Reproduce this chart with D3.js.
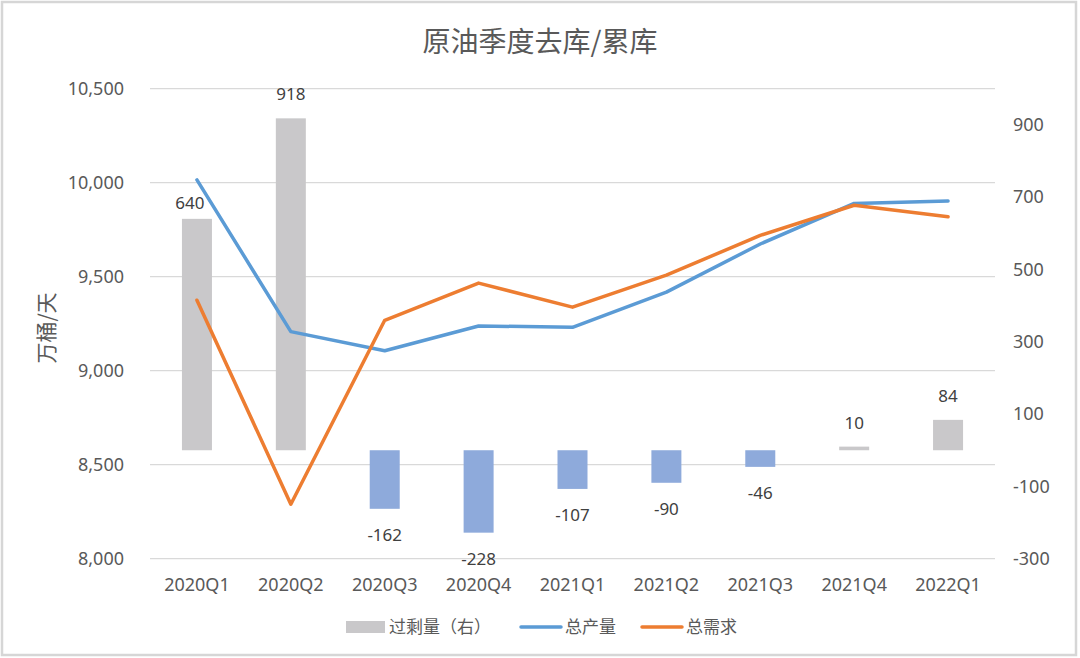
<!DOCTYPE html>
<html>
<head>
<meta charset="utf-8">
<script src="https://cdn.jsdelivr.net/npm/d3@7"></script>
<style>
  html, body { margin: 0; padding: 0; background: #fff; }
  svg { display: block; font-family: "Noto Sans CJK SC", "Noto Sans", sans-serif; }
</style>
</head>
<body>
<div id="chart"></div>
<script>
// quarters on the x axis
const quarters = ['2020Q1', '2020Q2', '2020Q3', '2020Q4', '2021Q1', '2021Q2', '2021Q3', '2021Q4', '2022Q1'];
// 总产量 / 总需求, left axis (万桶/天)
const production = [10015, 9208, 9106, 9238, 9231, 9418, 9674, 9890, 9903];
const demand = [9375, 8290, 9268, 9466, 9338, 9508, 9720, 9880, 9819];
// 过剩量, right axis
const surplus = [640, 918, -162, -228, -107, -90, -46, 10, 84];
const leftTicks = [8000, 8500, 9000, 9500, 10000, 10500];
const rightTicks = [-300, -100, 100, 300, 500, 700, 900];

const width = 1080, height = 658;
const plot = { left: 150, right: 995, top: 88.7, bottom: 558.7 };
const textColor = '#595959';
const numFont = '"Noto Sans", "Open Sans", sans-serif';

const svg = d3.select('#chart')
  .append('svg')
  .attr('width', width)
  .attr('height', height);

// outer frame
svg.append('rect')
  .attr('x', 2).attr('y', 2)
  .attr('width', width - 6).attr('height', height - 5)
  .attr('fill', '#fff')
  .attr('stroke', '#d6d6d6')
  .attr('stroke-width', 2.5);

const x = d3.scaleBand()
  .domain(quarters)
  .range([plot.left, plot.right]);

const yLeft = d3.scaleLinear()
  .domain([8000, 10500])
  .range([plot.bottom, plot.top]);

const yRight = d3.scaleLinear()
  .domain([-300, 1000])
  .range([plot.bottom, plot.top]);

// gridlines
svg.append('g')
  .selectAll('line')
  .data(leftTicks)
  .enter()
  .append('line')
  .attr('x1', plot.left)
  .attr('x2', plot.right)
  .attr('y1', d => yLeft(d))
  .attr('y2', d => yLeft(d))
  .attr('stroke', '#d9d9d9')
  .attr('stroke-width', 1.2);

// left axis
const axisL = svg.append('g')
  .attr('transform', `translate(${plot.left - 26},0)`)
  .call(d3.axisLeft(yLeft).tickValues(leftTicks).tickSize(0).tickPadding(0).tickFormat(d3.format(',')));
axisL.select('.domain').remove();
axisL.selectAll('text')
  .attr('fill', textColor)
  .style('font-size', '18px')
  .style('font-family', numFont);

// right axis (plain hyphen for negatives, like the source)
const axisR = svg.append('g')
  .attr('transform', `translate(${plot.right + 18},0)`)
  .call(d3.axisRight(yRight).tickValues(rightTicks).tickSize(0).tickPadding(0).tickFormat(d => String(d)));
axisR.select('.domain').remove();
axisR.selectAll('text')
  .attr('fill', textColor)
  .style('font-size', '18px')
  .style('font-family', numFont);

// category axis
const axisB = svg.append('g')
  .attr('transform', `translate(0,585)`)
  .call(d3.axisBottom(x).tickSize(0).tickPadding(0));
axisB.select('.domain').remove();
axisB.selectAll('text')
  .attr('fill', textColor)
  .attr('y', 0)
  .attr('dy', '0.36em')
  .style('font-size', '18px')
  .style('font-family', numFont);

// surplus bars
const barW = 30;
const zero = yRight(0);
const rows = quarters.map((q, i) => ({ q, v: surplus[i] }));

svg.append('g')
  .selectAll('rect')
  .data(rows)
  .enter()
  .append('rect')
  .attr('x', d => x(d.q) + x.bandwidth() / 2 - barW / 2)
  .attr('width', barW)
  .attr('y', d => Math.min(yRight(d.v), zero))
  .attr('height', d => Math.max(Math.abs(yRight(d.v) - zero), 1))
  .attr('fill', d => (d.v >= 0 ? '#c9c8ca' : '#8eaadb'));

// bar labels
svg.append('g')
  .selectAll('text')
  .data(rows)
  .enter()
  .append('text')
  .attr('x', d => x(d.q) + x.bandwidth() / 2 - (d.q === '2020Q1' ? 7 : 0))
  .attr('y', d => {
    if (d.q === '2020Q1') return yRight(d.v) - 16;
    return d.v >= 0 ? yRight(d.v) - 24 : yRight(d.v) + 26;
  })
  .attr('dy', '0.36em')
  .attr('text-anchor', 'middle')
  .attr('fill', '#404040')
  .style('font-size', '17px')
  .style('font-family', numFont)
  .text(d => String(d.v));

// lines
const line = d3.line()
  .x((d, i) => x(quarters[i]) + x.bandwidth() / 2)
  .y(d => yLeft(d));

svg.append('path')
  .datum(production)
  .attr('d', line)
  .attr('fill', 'none')
  .attr('stroke', '#5b9bd5')
  .attr('stroke-width', 3.5)
  .attr('stroke-linejoin', 'round')
  .attr('stroke-linecap', 'round');

svg.append('path')
  .datum(demand)
  .attr('d', line)
  .attr('fill', 'none')
  .attr('stroke', '#ed7d31')
  .attr('stroke-width', 3.5)
  .attr('stroke-linejoin', 'round')
  .attr('stroke-linecap', 'round');

// title
svg.append('text')
  .attr('x', 540)
  .attr('y', 42)
  .attr('dy', '0.36em')
  .attr('text-anchor', 'middle')
  .attr('fill', textColor)
  .style('font-size', '28px')
  .text('原油季度去库/累库');

// y axis title
svg.append('text')
  .attr('transform', 'translate(46,328) rotate(-90)')
  .attr('dy', '0.36em')
  .attr('text-anchor', 'middle')
  .attr('fill', textColor)
  .style('font-size', '21px')
  .text('万桶/天');

// legend
const legend = svg.append('g').attr('transform', 'translate(0,627)');
legend.append('rect')
  .attr('x', 346).attr('y', -6)
  .attr('width', 39).attr('height', 12)
  .attr('fill', '#c9c8ca');
legend.append('text')
  .attr('x', 389).attr('y', 0).attr('dy', '0.36em')
  .attr('fill', textColor).style('font-size', '17px')
  .text('过剩量（右）');

[['总产量', '#5b9bd5', 521], ['总需求', '#ed7d31', 642]].forEach(([name, color, lx]) => {
  legend.append('line')
    .attr('x1', lx).attr('x2', lx + 40)
    .attr('y1', 0).attr('y2', 0)
    .attr('stroke', color)
    .attr('stroke-width', 3.5)
    .attr('stroke-linecap', 'round');
  legend.append('text')
    .attr('x', lx + 44).attr('y', 0).attr('dy', '0.36em')
    .attr('fill', textColor).style('font-size', '17px')
    .text(name);
});
</script>
</body>
</html>
